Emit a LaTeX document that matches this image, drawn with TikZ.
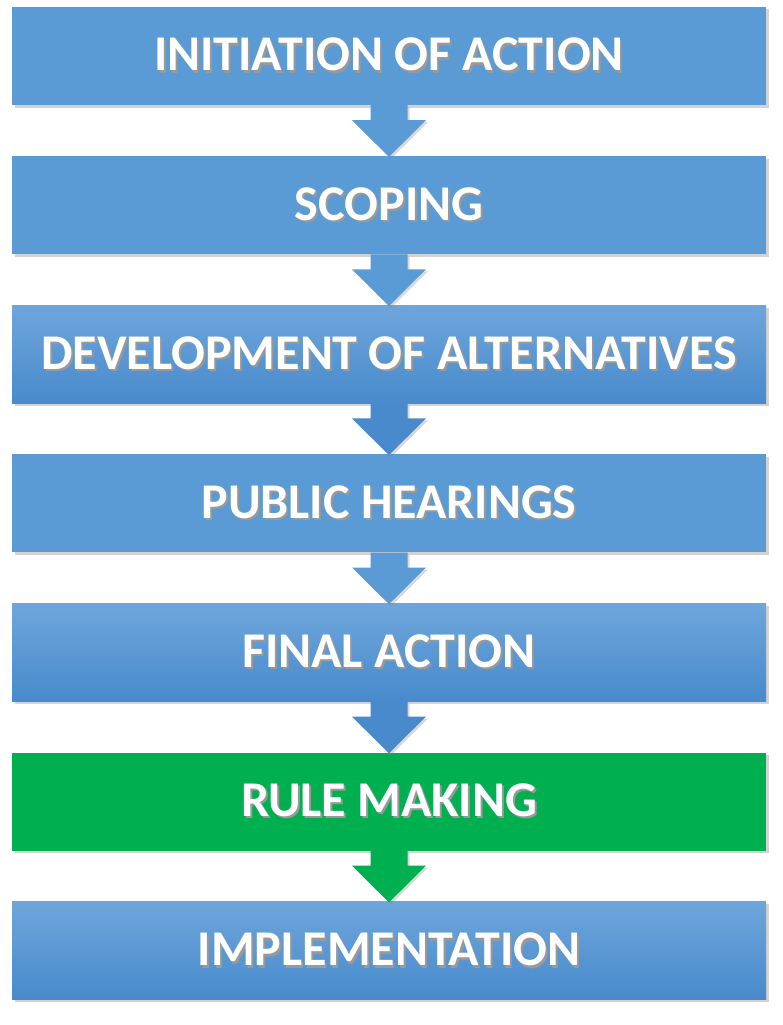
\documentclass[tikz,border=0pt]{standalone}
\usepackage{fontspec}
\setmainfont{Carlito}
\usetikzlibrary{calc,shadows,positioning}
\definecolor{stepblue}{RGB}{91,155,213}
\definecolor{steptop}{RGB}{110,166,219}
\definecolor{stepbot}{RGB}{72,138,204}
\definecolor{stepgreen}{RGB}{0,176,80}
\newcommand{\shtext}[1]{\makebox[0pt][l]{\hspace{2pt}\raisebox{-2.5pt}{\color{black!40}#1}}#1}

\begin{document}
\begin{tikzpicture}[x=1pt,y=1pt,
  stepbox/.style={rectangle,fill=stepblue,minimum width=754pt,minimum height=98pt,inner sep=0pt,
    text=white,font=\bfseries\fontsize{50}{50}\selectfont,
    drop shadow={shadow xshift=2.5pt,shadow yshift=-2.5pt,opacity=0.35}},
  stepgrad/.style={stepbox,top color=steptop,bottom color=stepbot},
  stepgreenbox/.style={stepbox,fill=stepgreen},
  downarrow/.style={drop shadow={shadow xshift=2pt,shadow yshift=-2pt,opacity=0.3}}
]
\useasboundingbox (0,0) rectangle (782,-1025);

\node[stepbox] at (389,-56) (B1) {\shtext{INITIATION OF ACTION}};
\node[stepbox, below = 50.7pt of B1] (B2) {\shtext{SCOPING}};
\node[stepgrad, below = 50.7pt of B2] (B3) {\shtext{DEVELOPMENT OF ALTERNATIVES}};
\node[stepbox, below = 50.7pt of B3] (B4) {\shtext{PUBLIC HEARINGS}};
\node[stepgrad, below = 50.7pt of B4] (B5) {\shtext{FINAL ACTION}};
\node[stepgreenbox, below = 50.7pt of B5] (B6) {\shtext{RULE MAKING}};
\node[stepgrad, below = 50.7pt of B6] (B7) {\shtext{IMPLEMENTATION}};

% block arrows between the steps
\foreach \a/\b/\c in {1/2/stepblue,2/3/stepblue,3/4/stepbot,4/5/stepblue,5/6/stepbot,6/7/stepgreen}{
\fill[\c,downarrow] ($(B\a.south)+(-18.5,0)$) -- ++(0,-15) -- ++(-18.5,0) -- ($(B\b.north)+(0,-1)$)
  -- ($(B\a.south)+(37,-15)$) -- ++(-18.5,0) -- ++(0,15) -- cycle;
}

\end{tikzpicture}
\end{document}
